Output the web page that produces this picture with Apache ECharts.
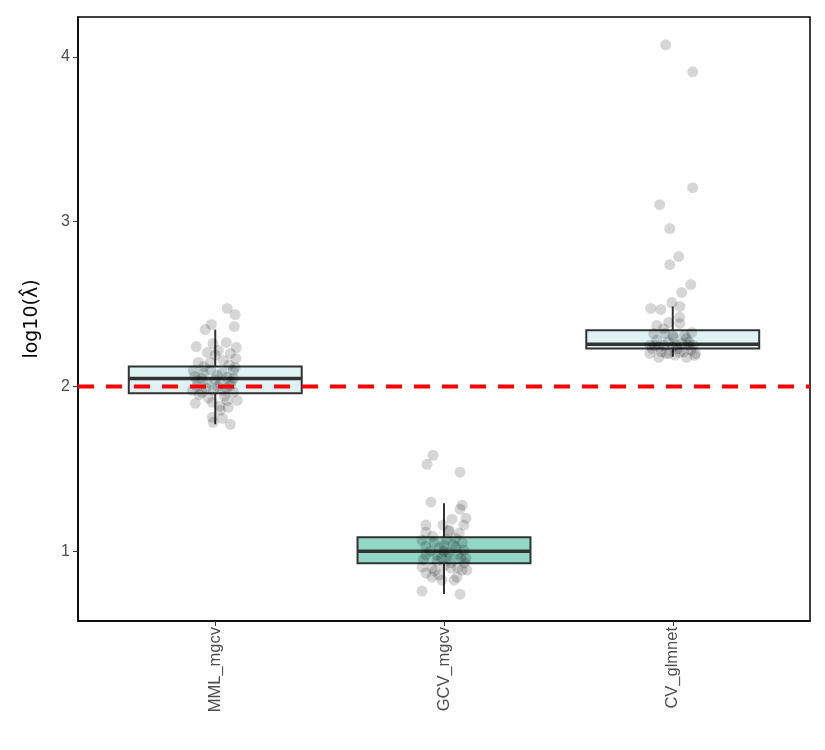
<!DOCTYPE html>
<html>
<head>
<meta charset="utf-8">
<script src="https://cdn.jsdelivr.net/npm/echarts@6/dist/echarts.min.js"></script>
<style>
  html, body { margin: 0; padding: 0; background: #fff; }
  #lambda-box { width: 825px; height: 750px; }
</style>
</head>
<body>
<div id="lambda-box"></div>
<script>
// methods on the x axis (positions 1, 2, 3)
const methods = ["MML_mgcv", "GCV_mgcv", "CV_glmnet"];
const yTicks = [1, 2, 3, 4];
const trueValue = 2;

// box stats per method: [low whisker, q1, median, q3, high whisker]
const boxStats = [
  [1.77, 1.958, 2.048, 2.121, 2.345],
  [0.74, 0.927, 1.0, 1.085, 1.29],
  [2.18, 2.23, 2.255, 2.34, 2.485]
];
const boxFill = ["#dff2f4", "#93d7c6", "#dff2f4"];

// jittered points: [x offset from method, log10 lambda]
const mmlPoints = [
  [0.052, 2.473], [0.087, 2.436], [-0.017, 2.376], [-0.044, 2.345], [0.083, 2.364],
  [-0.083, 2.242], [0.048, 2.267], [0.092, 2.236], [-0.035, 2.206], [0.013, 2.218],
  [0.066, 2.2], [-0.074, 2.145], [-0.022, 2.145], [0.035, 2.158], [0.087, 2.115],
  [-0.096, 2.097], [-0.052, 2.079], [0.009, 2.067], [0.052, 2.055], [0.079, 2.097],
  [-0.079, 2.036], [-0.035, 2.024], [0.022, 2.018], [0.066, 2.006], [-0.1, 1.976],
  [-0.057, 1.964], [-0.009, 1.976], [0.035, 1.976], [0.079, 1.964], [-0.087, 1.897],
  [-0.013, 1.903], [0.052, 1.915], [0.096, 1.915], [0.022, 1.855], [0.057, 1.873],
  [-0.013, 1.812], [0.031, 1.806], [-0.009, 1.782], [0.066, 1.77],
  [-0.06, 2.05], [0.0, 2.04], [0.03, 2.08], [-0.02, 2.1], [0.06, 2.13],
  [-0.04, 1.99], [0.01, 2.0], [0.07, 2.03], [-0.09, 2.06], [0.04, 1.94],
  [-0.03, 1.93], [0.09, 2.17], [-0.07, 1.95], [0.0, 2.19], [0.05, 1.99],
  [-0.05, 2.12], [0.02, 1.88], [-0.01, 2.26], [0.08, 2.05], [-0.08, 2.0]
];
const gcvPoints = [
  [-0.048, 1.582], [-0.074, 1.527], [0.07, 1.479], [-0.057, 1.297], [0.079, 1.279],
  [0.07, 1.255], [0.096, 1.2], [0.035, 1.194], [-0.004, 1.158], [-0.079, 1.158],
  [0.087, 1.158], [-0.079, 1.115], [0.022, 1.127], [0.066, 1.109], [-0.096, 1.067],
  [-0.044, 1.055], [0.0, 1.036], [0.052, 1.024], [0.087, 1.006], [-0.079, 0.976],
  [-0.031, 0.976], [0.013, 0.964], [0.074, 0.958], [0.096, 0.958], [-0.096, 0.903],
  [-0.052, 0.897], [0.031, 0.897], [0.079, 0.885], [-0.079, 0.867], [-0.022, 0.855],
  [0.057, 0.842], [0.1, 0.885], [-0.052, 0.842], [0.044, 0.824], [-0.009, 0.824],
  [-0.096, 0.758], [0.07, 0.739],
  [0.0, 1.0], [0.02, 0.99], [-0.02, 1.02], [0.04, 1.04], [-0.06, 1.0],
  [0.06, 0.98], [-0.03, 0.94], [0.01, 1.07], [0.08, 1.05], [-0.08, 1.03],
  [0.03, 0.93], [-0.01, 0.96], [0.05, 1.08], [-0.05, 1.09], [0.0, 0.91],
  [0.09, 0.93], [-0.09, 0.95], [0.02, 1.12], [-0.04, 0.88], [0.06, 0.9]
];
const cvPoints = [
  [-0.031, 4.073], [0.087, 3.909], [0.087, 3.206], [-0.057, 3.103], [-0.013, 2.958],
  [0.026, 2.788], [-0.013, 2.739], [0.079, 2.618], [0.039, 2.57], [-0.004, 2.509],
  [0.031, 2.485], [-0.096, 2.473], [-0.052, 2.467], [-0.07, 2.37], [-0.017, 2.388],
  [0.031, 2.382], [0.083, 2.327], [-0.083, 2.321], [-0.035, 2.321], [0.004, 2.297],
  [0.052, 2.309], [-0.079, 2.248], [-0.039, 2.248], [0.017, 2.248], [0.07, 2.248],
  [-0.1, 2.2], [-0.061, 2.176], [-0.017, 2.2], [0.061, 2.176], [0.096, 2.188],
  [0.031, 2.206],
  [-0.09, 2.23], [-0.05, 2.21], [0.0, 2.24], [0.04, 2.26], [0.08, 2.22],
  [-0.02, 2.27], [0.06, 2.29], [-0.07, 2.28], [0.01, 2.19], [0.09, 2.25],
  [-0.04, 2.35], [0.03, 2.42], [0.05, 2.21], [-0.1, 2.25], [0.02, 2.23],
  [-0.06, 2.24], [0.07, 2.27], [-0.03, 2.2], [0.1, 2.2], [0.0, 2.31]
];

const allPoints = [mmlPoints, gcvPoints, cvPoints];
const scatterData = [];
allPoints.forEach((pts, i) => {
  pts.forEach(p => scatterData.push([i + 1 + p[0], p[1]]));
});
const boxData = boxStats.map((s, i) => [i + 1].concat(s));

const chart = echarts.init(document.getElementById("lambda-box"));
const font = "Liberation Sans, Arial, sans-serif";

const option = {
  animation: false,
  grid: {
    left: 78, right: 15, top: 17, bottom: 129,
    show: true, borderColor: "#000", borderWidth: 1.5, backgroundColor: "#fff"
  },
  xAxis: {
    type: "value",
    min: 0.4,
    max: 3.6,
    splitLine: { show: false },
    axisLine: { lineStyle: { color: "#000", width: 1.5 } },
    axisTick: { customValues: [1, 2, 3], length: 5, lineStyle: { color: "#333" } },
    axisLabel: {
      customValues: [1, 2, 3],
      rotate: 90,
      color: "#4d4d4d",
      fontSize: 16.5,
      fontFamily: font,
      margin: 6,
      formatter: v => methods[Math.round(v) - 1]
    }
  },
  yAxis: {
    type: "value",
    min: 0.576,
    max: 4.242,
    name: "log10(λ\u0302)",
    nameLocation: "middle",
    nameGap: 36,
    nameRotate: 90,
    nameTextStyle: { color: "#000", fontSize: 19, fontFamily: "DejaVu Sans, Liberation Sans, sans-serif" },
    splitLine: { show: false },
    axisLine: { show: true, lineStyle: { color: "#000", width: 1.5 } },
    axisTick: { show: true, customValues: yTicks, length: 5, lineStyle: { color: "#333" } },
    axisLabel: {
      customValues: yTicks,
      color: "#4d4d4d",
      fontSize: 16,
      fontFamily: font,
      margin: 8
    }
  },
  series: [
    {
      type: "custom",
      z: 2,
      data: boxData,
      renderItem: (params, api) => {
        const x = api.value(0);
        const half = 0.378;
        const lo = api.coord([x, api.value(1)]);
        const q1 = api.coord([x - half, api.value(2)]);
        const med = api.coord([x, api.value(3)]);
        const q3 = api.coord([x + half, api.value(4)]);
        const hi = api.coord([x, api.value(5)]);
        const stroke = "#333";
        return {
          type: "group",
          children: [
            { type: "line", shape: { x1: lo[0], y1: lo[1], x2: lo[0], y2: q1[1] },
              style: { stroke: stroke, lineWidth: 2 } },
            { type: "line", shape: { x1: hi[0], y1: q3[1], x2: hi[0], y2: hi[1] },
              style: { stroke: stroke, lineWidth: 2 } },
            { type: "rect", shape: { x: q1[0], y: q3[1], width: q3[0] - q1[0], height: q1[1] - q3[1] },
              style: { fill: boxFill[params.dataIndex], stroke: stroke, lineWidth: 2 } },
            { type: "line", shape: { x1: q1[0], y1: med[1], x2: q3[0], y2: med[1] },
              style: { stroke: stroke, lineWidth: 3.5 } }
          ]
        };
      }
    },
    {
      type: "scatter",
      z: 3,
      symbolSize: 11,
      data: scatterData,
      itemStyle: { color: "rgba(0,0,0,0.2)" }
    },
    {
      type: "line",
      z: 4,
      symbol: "none",
      data: [[0.4, trueValue], [3.6, trueValue]],
      lineStyle: { color: "#ff0000", width: 4, type: [16, 12] }
    }
  ]
};

chart.setOption(option);
</script>
</body>
</html>
